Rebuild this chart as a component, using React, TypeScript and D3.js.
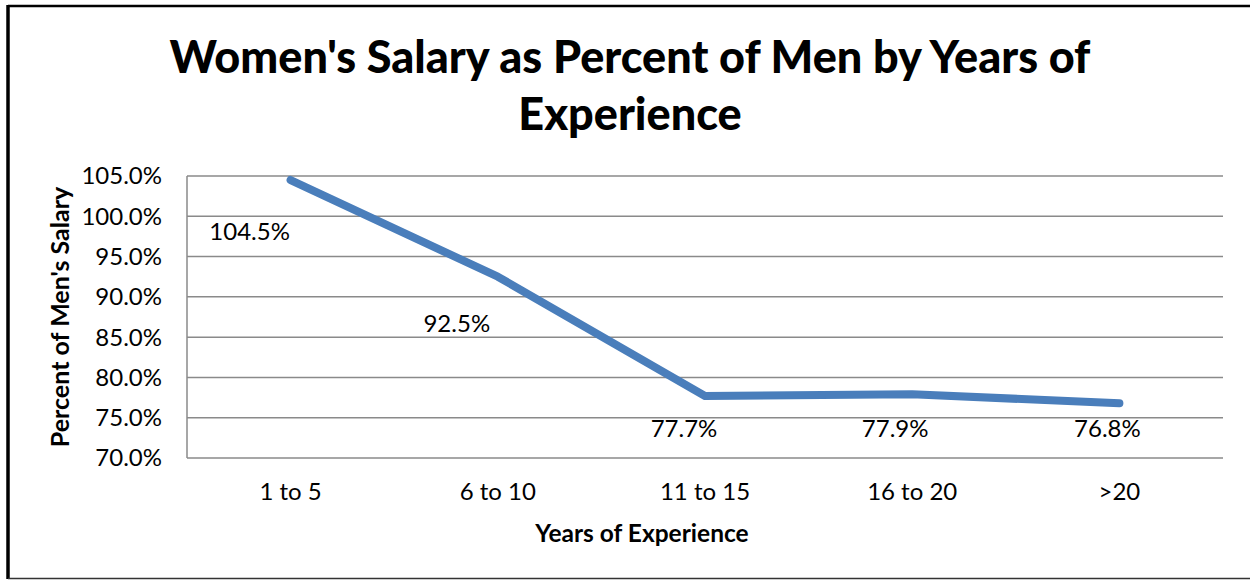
import React from "react";
import * as d3 from "d3";

const title = ["Women's Salary as Percent of Men by Years of", "Experience"];
const categories = ["1 to 5", "6 to 10", "11 to 15", "16 to 20", ">20"];
const values = [1.045, 0.925, 0.777, 0.779, 0.768];
const yTicks = [0.7, 0.75, 0.8, 0.85, 0.9, 0.95, 1.0, 1.05];
const xTitle = "Years of Experience";
const yTitle = "Percent of Men's Salary";
// label nudges relative to each point (dx, dy)
const labelNudge: [number, number][] = [
  [-41, 52],
  [-41, 47],
  [-21, 33],
  [-17, 34],
  [-12, 25],
];

const W = 1250;
const H = 580;
const plot = { left: 187, right: 1223, top: 176, bottom: 458 };
const FONT = "Lato, 'Open Sans', sans-serif";

export default function App() {
  const x = d3.scaleBand<string>().domain(categories).range([plot.left, plot.right]);
  const cx = (c: string) => (x(c) as number) + x.bandwidth() / 2;
  const y = d3.scaleLinear().domain([0.7, 1.05]).range([plot.bottom, plot.top]);
  const fmt = d3.format(".1%");
  const line = d3
    .line<number>()
    .x((_, i) => cx(categories[i]))
    .y((d) => y(d));

  return (
    <svg
      width={W}
      height={H}
      style={{ position: "fixed", left: 0, top: 0, background: "#fff" }}
      fontFamily={FONT}
    >
      <rect x={0} y={0} width={W} height={H} fill="#fff" />
      {/* outer frame */}
      <line x1={8} y1={6} x2={W} y2={6} stroke="#000" strokeWidth={2.5} />
      <line x1={8} y1={5} x2={8} y2={579} stroke="#000" strokeWidth={3.5} />
      <line x1={8} y1={578.5} x2={W} y2={578.5} stroke="#333" strokeWidth={1.5} />

      {/* title */}
      <text x={630} y={73} textAnchor="middle" fontSize={45} fontWeight="900" fill="#000">
        {title[0]}
      </text>
      <text x={630} y={130} textAnchor="middle" fontSize={45} fontWeight="900" fill="#000">
        {title[1]}
      </text>

      {/* gridlines */}
      {yTicks.map((t) => (
        <line
          key={t}
          x1={plot.left}
          x2={plot.right}
          y1={y(t)}
          y2={y(t)}
          stroke="#8a8a8a"
          strokeWidth={1.5}
        />
      ))}
      <line x1={plot.left} x2={plot.left} y1={plot.top} y2={plot.bottom} stroke="#8a8a8a" strokeWidth={1.5} />

      {/* y tick labels */}
      {yTicks.map((t) => (
        <text key={t} x={162} y={y(t)} dy="0.35em" textAnchor="end" fontSize={24} fill="#000">
          {fmt(t)}
        </text>
      ))}

      {/* x tick labels */}
      {categories.map((c) => (
        <text key={c} x={cx(c)} y={492} dy="0.35em" textAnchor="middle" fontSize={24} fill="#000">
          {c}
        </text>
      ))}

      {/* axis titles */}
      <text x={642} y={533} dy="0.35em" textAnchor="middle" fontSize={24.5} fontWeight="bold" fill="#000">
        {xTitle}
      </text>
      <text
        transform={`translate(60,${(plot.top + plot.bottom) / 2}) rotate(-90)`}
        dy="0.35em"
        textAnchor="middle"
        fontSize={25}
        fontWeight="bold"
        fill="#000"
      >
        {yTitle}
      </text>

      {/* series line */}
      <path
        d={line(values) || ""}
        fill="none"
        stroke="#4a7ebb"
        strokeWidth={8}
        strokeLinecap="round"
        strokeLinejoin="round"
      />

      {/* data labels */}
      {values.map((v, i) => (
        <text
          key={i}
          x={cx(categories[i]) + labelNudge[i][0]}
          y={y(v) + labelNudge[i][1]}
          dy="0.35em"
          textAnchor="middle"
          fontSize={24}
          fill="#000"
        >
          {fmt(v)}
        </text>
      ))}
    </svg>
  );
}
